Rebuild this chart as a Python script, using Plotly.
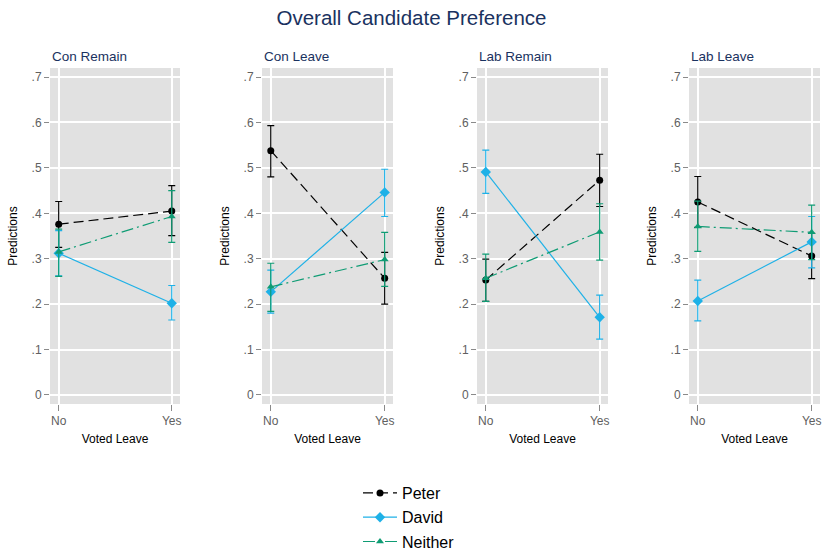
import plotly.graph_objects as go

panels = ["Con Remain", "Con Leave", "Lab Remain", "Lab Leave"]
x_labels = ["No", "Yes"]
x_vals = [0, 1]

# values per panel: [No, Yes]; lower / upper CI
peter = [[0.376, 0.405], [0.538, 0.257], [0.253, 0.473], [0.425, 0.306]]
peter_lo = [[0.325, 0.351], [0.480, 0.200], [0.206, 0.415], [0.369, 0.256]]
peter_hi = [[0.426, 0.461], [0.593, 0.314], [0.299, 0.530], [0.481, 0.356]]

david = [[0.312, 0.202], [0.227, 0.446], [0.491, 0.171], [0.207, 0.337]]
david_lo = [[0.262, 0.165], [0.180, 0.393], [0.444, 0.123], [0.163, 0.280]]
david_hi = [[0.362, 0.241], [0.275, 0.497], [0.539, 0.220], [0.253, 0.393]]

neither = [[0.315, 0.393], [0.238, 0.298], [0.257, 0.359], [0.371, 0.358]]
neither_lo = [[0.261, 0.336], [0.184, 0.239], [0.206, 0.297], [0.316, 0.298]]
neither_hi = [[0.365, 0.450], [0.290, 0.358], [0.310, 0.421], [0.427, 0.418]]

y_tickvals = [0, 0.1, 0.2, 0.3, 0.4, 0.5, 0.6, 0.7]
y_ticktext = ["0", ".1", ".2", ".3", ".4", ".5", ".6", ".7"]

series = [
    ("Peter", peter, peter_lo, peter_hi, "#000000", "circle", 7, "10px,5px"),
    ("David", david, david_lo, david_hi, "#1eb1e7", "diamond", 8, "solid"),
    ("Neither", neither, neither_lo, neither_hi, "#0f9c74", "triangle-up", 7, "12px,4px,2px,4px"),
]

FONT = "Liberation Sans, Arial, sans-serif"
NAVY = "#1a3260"
W, H = 823, 550
ML, MR, MT, MB = 50, 3, 68, 146
pw = W - ML - MR
pix = [(50, 180), (262, 393), (477, 608), (689, 820)]
domains = [[(a - ML) / pw, (b - ML) / pw] for a, b in pix]

fig = go.Figure()
layout = {}
for i, name in enumerate(panels):
    ax = "" if i == 0 else str(i + 1)
    for s_idx, (sname, vals, lo, hi, col, sym, msz, dash) in enumerate(series):
        v = vals[i]
        fig.add_trace(go.Scatter(
            x=x_vals, y=v, mode="lines+markers", name=sname,
            legendgroup=sname, showlegend=(i == 0),
            line=dict(color=col, width=1.2, dash=dash),
            marker=dict(color=col, symbol=sym, size=msz),
            error_y=dict(type="data", symmetric=False,
                         array=[hi[i][k] - v[k] for k in range(2)],
                         arrayminus=[v[k] - lo[i][k] for k in range(2)],
                         color=col, thickness=1.2, width=3.5),
            xaxis="x" + ax, yaxis="y" + ax,
        ))
    layout["xaxis" + ax] = dict(
        domain=domains[i], anchor="y" + ax, range=[-0.077, 1.073],
        tickvals=x_vals, ticktext=x_labels, showgrid=True, gridcolor="white",
        gridwidth=2, zeroline=False, ticks="outside", ticklen=6, tickcolor="#8a8a8a",
        tickfont=dict(family=FONT, size=12, color="#606060"), showline=False,
        title=dict(text="Voted Leave", font=dict(family=FONT, size=12, color="#000"), standoff=7),
        fixedrange=True, automargin=False,
    )
    layout["yaxis" + ax] = dict(
        domain=[0, 1], anchor="x" + ax, range=[-0.02, 0.72],
        tickvals=y_tickvals, ticktext=y_ticktext, showgrid=True, gridcolor="white",
        gridwidth=2, zeroline=False, ticks="outside", ticklen=5, tickcolor="#8a8a8a",
        tickfont=dict(family=FONT, size=12, color="#606060"), showline=False,
        title=dict(text="Predictions", font=dict(family=FONT, size=12, color="#000"), standoff=11),
        fixedrange=True, automargin=False,
    )
    fig.add_shape(type="rect", xref=("x" + ax) + " domain", yref=("y" + ax) + " domain",
                  x0=0, x1=1, y0=0, y1=1, fillcolor="#e1e1e1", line=dict(width=0), layer="below")
    fig.add_annotation(text=name, xref=("x" + ax) + " domain", yref="paper",
                       x=0, y=1, xanchor="left", yanchor="bottom", yshift=2, showarrow=False,
                       font=dict(family=FONT, size=13.5, color=NAVY))

fig.update_layout(
    width=W, height=H, margin=dict(l=ML, r=MR, t=MT, b=MB, autoexpand=False),
    paper_bgcolor="white", plot_bgcolor="rgba(0,0,0,0)",
    title=dict(text="Overall Candidate Preference", x=0.5, xanchor="center",
               y=1 - 18 / H, yanchor="middle", font=dict(family=FONT, size=20.5, color=NAVY)),
    legend=dict(orientation="v", x=(358 - ML) / pw, xanchor="left",
                yref="container", y=1 - 476 / H, yanchor="top",
                font=dict(family=FONT, size=16, color="#000"), bgcolor="rgba(0,0,0,0)",
                tracegroupgap=0.5, itemwidth=34),
    showlegend=True,
    **layout,
)
fig.write_html("out.html", config={"displayModeBar": False},
               post_script="document.body.style.margin='0px';")
